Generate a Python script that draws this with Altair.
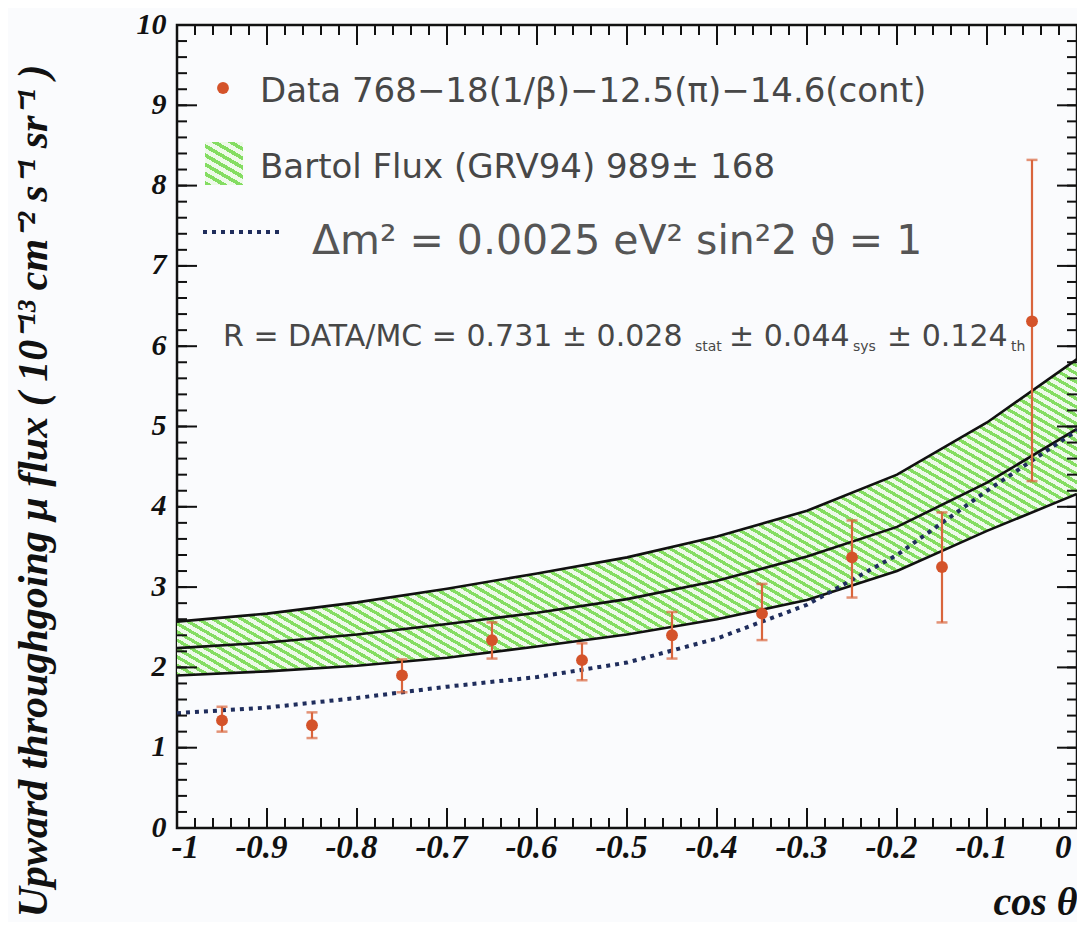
import altair as alt
import pandas as pd

# ---------------- data ----------------
cos_theta = [-0.95, -0.85, -0.75, -0.65, -0.55, -0.45, -0.35, -0.25, -0.15, -0.05]
flux      = [1.34, 1.28, 1.90, 2.34, 2.09, 2.40, 2.67, 3.37, 3.25, 6.31]
flux_hi   = [1.51, 1.44, 2.10, 2.56, 2.30, 2.69, 3.04, 3.83, 3.93, 8.32]
flux_lo   = [1.20, 1.12, 1.69, 2.11, 1.84, 2.11, 2.34, 2.87, 2.56, 4.32]

curve_x       = [-1.0, -0.9, -0.8, -0.7, -0.6, -0.5, -0.4, -0.3, -0.2, -0.1, 0.0]
bartol_upper  = [2.57, 2.67, 2.81, 2.98, 3.17, 3.37, 3.63, 3.95, 4.40, 5.05, 5.84]
bartol_center = [2.24, 2.31, 2.41, 2.54, 2.68, 2.85, 3.08, 3.38, 3.75, 4.30, 4.97]
bartol_lower  = [1.90, 1.95, 2.02, 2.12, 2.26, 2.41, 2.60, 2.84, 3.20, 3.70, 4.16]
oscillated    = [1.43, 1.50, 1.62, 1.76, 1.88, 2.06, 2.36, 2.78, 3.40, 4.20, 4.95]

x_ticks = [-1.0, -0.9, -0.8, -0.7, -0.6, -0.5, -0.4, -0.3, -0.2, -0.1, 0.0]
y_ticks = [0, 1, 2, 3, 4, 5, 6, 7, 8, 9, 10]
x_minor = [round(-1 + 0.02 * i, 2) for i in range(51)]
y_minor = [round(0.2 * i, 1) for i in range(51)]

legend_texts = [
    "Data 768\u221218(1/\u03b2)\u221212.5(\u03c0)\u221214.6(cont)",
    "Bartol Flux (GRV94) 989\u00b1 168",
    "\u0394m\u00b2 = 0.0025 eV\u00b2 sin\u00b22 \u03d1 = 1",
]
ratio_parts = ["R = DATA/MC = 0.731 \u00b1 0.028", "\u00b1 0.044", "\u00b1 0.124"]
ratio_subs = ["stat", "sys", "th"]

y_title = "Upward throughgoing \u03bc flux ( 10\u207b\u00b9\u00b3  cm\u207b\u00b2  s\u207b\u00b9  sr\u207b\u00b9 )"
x_title = "cos \u03b8"

# ---------------- styling ----------------
W, H = 900, 803
TOP = 17
GREEN, GAP = "#84dd62", "#eefaea"
RED, RED_BAR = "#d4532a", "#d9653c"
DOT = "#1f2d5c"
TXT = "#474747"
SERIF = "Liberation Serif"
SANS = "DejaVu Sans"


def hatch(n, x1, y1, x2, y2, frac=0.45):
    stops = []
    for i in range(n):
        a, b, e = i / n, (i + frac) / n, (i + 1) / n
        stops += [
            {"offset": round(a, 5), "color": GREEN},
            {"offset": round(b, 5), "color": GREEN},
            {"offset": round(b, 5), "color": GAP},
            {"offset": round(e, 5), "color": GAP},
        ]
    return {"gradient": "linear", "stops": stops, "x1": x1, "y1": y1, "x2": x2, "y2": y2}


xs = alt.Scale(domain=[-1, 0], nice=False, zero=False)
ys = alt.Scale(domain=[0, 10], nice=False, zero=False)

X_AXIS = alt.Axis(
    values=x_ticks, labelExpr="'' + datum.value", title=x_title,
    labelPadding=3, labelBaseline="top", labelOffset=-6, labelFontSize=33,
    titleFont=SERIF, titleFontStyle="italic", titleFontWeight="bold",
    titleFontSize=40, titleX=W, titleY=86, titleAlign="right",
    titleAnchor="end", titleBaseline="alphabetic", titleColor="#111",
)
Y_AXIS = alt.Axis(
    values=y_ticks, labelExpr="'' + datum.value", title=y_title,
    labelPadding=11, labelOffset=-1, labelFontSize=30,
    titleFont=SERIF, titleFontStyle="italic", titleFontWeight="bold",
    titleFontSize=42, titleAngle=270, titleX=-131, titleY=892,
    titleAlign="left", titleBaseline="alphabetic", titleColor="#111",
)


def X(field):
    return alt.X(field, type="quantitative", scale=xs, axis=X_AXIS)


def Y(field):
    return alt.Y(field, type="quantitative", scale=ys, axis=Y_AXIS)


curves = pd.DataFrame({
    "x": curve_x, "upper": bartol_upper, "center": bartol_center,
    "lower": bartol_lower, "osc": oscillated,
})
points = pd.DataFrame({"x": cos_theta, "y": flux, "hi": flux_hi, "lo": flux_lo})

band = alt.Chart(curves).mark_area(
    fill=hatch(100, 0, 1, 1.173, 0.284), strokeWidth=0
).encode(x=X("x"), y=Y("upper"), y2="lower:Q")

band_lines = alt.Chart(curves).transform_fold(
    ["upper", "center", "lower"], as_=["curve", "val"]
).mark_line(color="#111", strokeWidth=2.6).encode(
    x=X("x"), y=Y("val"), detail="curve:N",
)

osc_line = alt.Chart(curves).mark_line(
    color=DOT, strokeWidth=4, strokeDash=[4, 5]
).encode(x=X("x"), y=Y("osc"))

err = alt.Chart(points).mark_rule(color=RED_BAR, strokeWidth=2.2).encode(
    x=X("x"), y=Y("lo"), y2="hi:Q",
)
cap_hi = alt.Chart(points).mark_tick(
    color=RED_BAR, orient="horizontal", size=11, thickness=2.5
).encode(x=X("x"), y=Y("hi"))
cap_lo = alt.Chart(points).mark_tick(
    color=RED_BAR, orient="horizontal", size=11, thickness=2.5
).encode(x=X("x"), y=Y("lo"))
dots = alt.Chart(points).mark_circle(color=RED, size=140, opacity=1).encode(
    x=X("x"), y=Y("y"),
)

# ---- inward ticks (ROOT style frame) ----
xt_major = pd.DataFrame({"x": x_ticks})
xt_minor = pd.DataFrame({"x": x_minor})
yt_major = pd.DataFrame({"y": y_ticks})
yt_minor = pd.DataFrame({"y": y_minor})


def xtick(df, y0, y1):
    return alt.Chart(df).mark_rule(color="#111", strokeWidth=2).encode(
        x=X("x"), y=alt.value(y0), y2=alt.value(y1))


def ytick(df, x0, x1):
    return alt.Chart(df).mark_rule(color="#111", strokeWidth=2).encode(
        y=Y("y"), x=alt.value(x0), x2=alt.value(x1))


ticks = [
    xtick(xt_major, H, H - 20), xtick(xt_minor, H, H - 10),
    xtick(xt_major, 0, 20), xtick(xt_minor, 0, 10),
    ytick(yt_major, 0, 20), ytick(yt_minor, 0, 10),
    ytick(yt_major, W, W - 20), ytick(yt_minor, W, W - 10),
]


# ---- legend / annotations (pixel positions inside the plot frame) ----
def label(text, x, y, size, color=TXT, font=SANS, baseline="middle"):
    return alt.Chart(pd.DataFrame({"t": [text]})).mark_text(
        align="left", baseline=baseline, fontSize=size, font=font, color=color
    ).encode(x=alt.value(x), y=alt.value(y - (TOP - 15)), text="t:N")


one = pd.DataFrame({"k": [0]})
dy = TOP - 15
leg_dot = alt.Chart(one).mark_circle(color=RED, size=140, opacity=1).encode(
    x=alt.value(46), y=alt.value(65 - dy))
leg_swatch = alt.Chart(one).mark_rect(
    fill=hatch(7, 0, 1, 0.611, -0.198), strokeWidth=0
).encode(x=alt.value(28), x2=alt.value(66), y=alt.value(119 - dy), y2=alt.value(162 - dy))
leg_dash = alt.Chart(one).mark_rule(
    color=DOT, strokeWidth=4, strokeDash=[4, 5]
).encode(x=alt.value(26), x2=alt.value(106), y=alt.value(209 - dy))

legend = [
    leg_dot, label(legend_texts[0], 83, 69, 34),
    leg_swatch, label(legend_texts[1], 83, 145, 34),
    leg_dash, label(legend_texts[2], 135, 219, 41, color="#555"),
    label(ratio_parts[0], 46, 314, 30),
    label(ratio_subs[0], 518, 324, 14),
    label(ratio_parts[1], 552, 314, 30),
    label(ratio_subs[1], 676, 324, 14),
    label(ratio_parts[2], 710, 314, 30),
    label(ratio_subs[2], 834, 324, 14),
]

chart = alt.layer(
    band, band_lines, osc_line, err, cap_hi, cap_lo, dots, *ticks, *legend
).properties(
    width=W, height=H,
    padding={"left": 169, "top": TOP, "right": 0, "bottom": 94},
    autosize=alt.AutoSizeParams(type="none"),
    background="#fafbfd",
).configure_view(
    stroke="#111", strokeWidth=2.5, fill="#fafbfd"
).configure_axis(
    domain=False, ticks=False, grid=False,
    labelFont=SERIF, labelFontStyle="italic", labelFontWeight="bold",
    labelColor="#111", labelOverlap=False, labelBound=False,
)

chart.save("out.html", embed_options={"renderer": "svg", "actions": False})
